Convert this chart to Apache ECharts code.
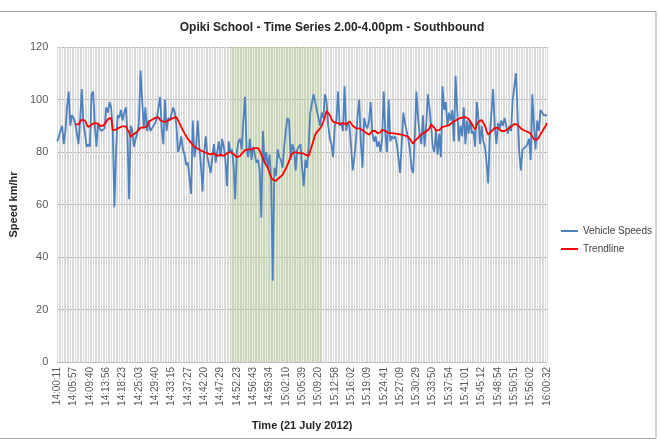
<!DOCTYPE html>
<html>
<head>
<meta charset="utf-8">
<script src="https://cdn.jsdelivr.net/npm/echarts@6/dist/echarts.min.js"></script>
<style>
  html, body { margin: 0; padding: 0; background: #fff; }
  #main { width: 660px; height: 446px; }
</style>
</head>
<body>
<div id="main"></div>
<script>
// labels shown under every 10th vehicle
var tickLabels = ['14:00:11', '14:05:57', '14:09:40', '14:13:56', '14:18:23', '14:25:03', '14:29:40', '14:33:15',
    '14:37:27', '14:42:20', '14:47:29', '14:52:23', '14:56:43', '14:59:34', '15:02:10', '15:05:39', '15:09:20',
    '15:12:58', '15:16:02', '15:19:09', '15:24:41', '15:27:09', '15:30:29', '15:33:50', '15:37:54', '15:41:01',
    '15:45:12', '15:48:54', '15:50:51', '15:56:02', '16:00:32'];

// one value per vehicle (km/hr)
var speeds = [
    84, 86, 88, 90, 83, 88, 97, 103, 90, 94,
    93, 91, 87, 83, 92, 104, 91, 87, 82, 83,
    82, 102, 103, 90, 82, 91, 89, 88, 88, 89,
    97, 95, 99, 97, 88, 59, 80, 94, 93, 96,
    92, 95, 97, 87, 62, 90, 88, 82, 85, 87,
    91, 111, 100, 89, 97, 88, 92, 88, 89, 89,
    91, 93, 97, 101, 89, 83, 100, 88, 93, 92,
    92, 97, 95, 90, 80, 82, 86, 81, 79, 75,
    76, 70, 64, 92, 78, 82, 92, 82, 75, 65,
    80, 86, 78, 75, 72, 78, 83, 76, 80, 84,
    78, 85, 82, 77, 67, 84, 80, 81, 75, 62,
    80, 84, 85, 81, 92, 101, 81, 78, 85, 77,
    82, 79, 76, 77, 73, 55, 88, 76, 80, 74,
    79, 70, 31, 74, 71, 81, 78, 77, 74, 82,
    88, 93, 92, 77, 83, 81, 73, 81, 82, 83,
    74, 67, 77, 74, 82, 95, 95, 102, 99, 99,
    93, 90, 95, 93, 102, 99, 90, 85, 83, 78,
    90, 92, 103, 90, 91, 88, 105, 88, 91, 90,
    82, 73, 78, 85, 94, 100, 83, 74, 93, 90,
    89, 92, 99, 87, 84, 86, 82, 84, 80, 85,
    103, 87, 80, 100, 84, 86, 85, 86, 83, 78,
    72, 83, 95, 91, 88, 85, 81, 74, 72, 86,
    103, 93, 87, 83, 94, 82, 90, 102, 97, 90,
    82, 80, 88, 79, 87, 78, 105, 96, 99, 90,
    95, 92, 96, 84, 109, 96, 84, 90, 86, 97,
    83, 92, 87, 92, 87, 88, 82, 99, 93, 83,
    90, 84, 82, 76, 68, 87, 95, 104, 90, 83,
    91, 89, 92, 90, 93, 90, 87, 90, 88, 100,
    105, 110, 94, 80, 73, 81, 81, 82, 83, 85,
    77, 102, 90, 81, 92, 88, 96, 96, 94, 94, 94
];

// moving-average trendline
var trend = [
    null, null, null, null, null, null, null, null, null, null,
    null, 90.5, 90.5, 90.5, 91.5, 92.3, 92.2, 92, 90.5, 89.5,
    90, 90.5, 91, 91, 90.8, 90.8, 90, 89.5, 90, 90.5,
    91.5, 92.5, 93, 93, 88.3, 88.3, 88.5, 89, 89.3, 89.6,
    89.8, 89.8, 89.8, 88.5, 87.6, 85.7, 86.5, 87, 87.2, 87.2,
    88.5, 89.3, 89.3, 89.3, 89.8, 89.8, 91.5, 92, 92.3, 92.3,
    93, 93.5, 93.2, 92.2, 91.6, 91.5, 91.5, 91.7, 92, 92.3,
    92.6, 93, 93.2, 93.3, 93, 90.8, 89.5, 88.3, 87, 86,
    85, 84.5, 83.5, 83, 82, 81.5, 81.3, 81.2, 80.5, 80,
    80, 79.8, 79.5, 79.2, 79.1, 79.3, 79.5, 79, 78.5, 78.3,
    79, 79.5, 78.5, 78.5, 79.5, 79.8, 80, 80, 79.2, 78.5,
    78, 78, 78.5, 79.4, 80, 80.7, 80.9, 81, 81, 81,
    81, 81.5, 82, 81.5, 80.5, 79, 77.5, 76, 75, 74,
    72, 70.3, 69.5, 69.2, 69, 69.5, 70.2, 70.8, 71.3, 72.5,
    73.6, 74.3, 76.5, 78.5, 79.5, 80, 80, 80, 79.6, 79.5,
    79.6, 79.6, 79, 78.4, 78.5, 80.5, 82.5, 84.5, 86.5, 87.6,
    88.3, 89, 90, 91.5, 93.5, 95.6, 95.3, 94, 92.5, 91.5,
    91, 91.2, 91, 90.7, 90.8, 91, 90.6, 90.5, 91, 91.7,
    91, 90, 89.5, 89, 89, 89, 88.6, 88.3, 88, 87.4,
    87, 86.6, 87.3, 88, 88.5, 88, 87.2, 86.6, 87.5, 88.5,
    88.3, 88, 87.5, 87.2, 87, 87.2, 87.5, 87, 86.6, 86.8,
    87, 86.6, 86.2, 86.2, 86.2, 85.8, 85.2, 84, 83.2, 84.2,
    84.8, 85.4, 86.2, 86.8, 87.1, 87.4, 87.8, 88.3, 89, 90.5,
    90.3, 89.3, 88.2, 87.9, 88.3, 88.8, 89.6, 90, 89.9, 89.8,
    90.2, 90.6, 91.3, 91.7, 92, 92.4, 92.7, 93, 93.1, 93.2,
    93.3, 93, 92.6, 91.5, 90.6, 89.5, 88.6, 90.5, 91.5, 92.2,
    92.2, 91.6, 90, 88, 86.6, 87.2, 87.9, 88.5, 89.2, 89.8,
    89.2, 88.6, 88, 87.6, 88, 88.4, 88.8, 89.1, 89.6, 90.2,
    90.7, 91.1, 90.3, 89.6, 89, 88.5, 88.2, 87.9, 87.7, 87.5,
    87, 86.6, 84.8, 84.7, 84.7, 85.6, 86.8, 87.7, 88.8, 89.8, 91
];

// school-zone period shaded green (vehicle index range)
var shadeFrom = 106, shadeTo = 162;

var categories = speeds.map(function (v, i) { return i; });
var font = 'Liberation Sans';

var myChart = echarts.init(document.getElementById('main'));
var option = {
    animation: false,
    backgroundColor: '#fff',
    textStyle: { fontFamily: font },
    title: {
        text: 'Opiki School - Time Series 2.00-4.00pm - Southbound',
        left: 327, top: 17, textAlign: 'center',
        textStyle: { fontFamily: font, fontSize: 12, fontWeight: 'bold', color: '#262626' }
    },
    graphic: [{
        type: 'rect', silent: true, z: -1,
        shape: { x: -2, y: 11.5, width: 658, height: 427 },
        style: { fill: 'none', stroke: '#a6a6a6', lineWidth: 1 }
    }],
    legend: {
        orient: 'vertical', left: 556, top: 221, itemGap: 8,
        icon: 'rect', itemWidth: 17, itemHeight: 2,
        textStyle: { fontFamily: font, fontSize: 10, color: '#404040' },
        data: ['Vehicle Speeds', 'Trendline']
    },
    grid: { left: 54, right: 113, top: 47, bottom: 84 },
    xAxis: {
        type: 'category',
        data: categories,
        boundaryGap: false,
        name: 'Time (21 July 2012)',
        nameLocation: 'middle', nameGap: 58,
        nameTextStyle: { fontFamily: font, fontSize: 11, fontWeight: 'bold', color: '#262626' },
        axisLine: { lineStyle: { color: '#bfbfbf' } },
        axisTick: { show: false },
        axisLabel: {
            interval: 9, rotate: 90, margin: 5,
            fontFamily: font, fontSize: 10, color: '#595959',
            formatter: function (v, i) { return tickLabels[i / 10]; }
        },
        splitLine: { show: true, interval: 0, lineStyle: { color: '#dadada', width: 1 } }
    },
    yAxis: {
        type: 'value', min: 0, max: 120, interval: 20,
        name: 'Speed km/hr',
        nameLocation: 'middle', nameGap: 34,
        nameTextStyle: { fontFamily: font, fontSize: 11, fontWeight: 'bold', color: '#262626' },
        axisLine: { show: false },
        axisTick: { show: false },
        axisLabel: { fontFamily: font, fontSize: 11, color: '#595959', margin: 9 },
        splitLine: { lineStyle: { color: '#b0b0b0' } }
    },
    series: [
        {
            name: 'Vehicle Speeds', type: 'line', data: speeds,
            symbol: 'none', color: '#4f81bd',
            lineStyle: { width: 1.8, color: '#4f81bd' },
            markArea: {
                silent: true,
                itemStyle: { color: 'rgba(160,192,100,0.26)' },
                data: [[{ xAxis: shadeFrom }, { xAxis: shadeTo }]]
            }
        },
        {
            name: 'Trendline', type: 'line', data: trend,
            symbol: 'none', color: '#ff0000',
            lineStyle: { width: 1.8, color: '#ff0000' }
        }
    ]
};
myChart.setOption(option);
</script>
</body>
</html>
